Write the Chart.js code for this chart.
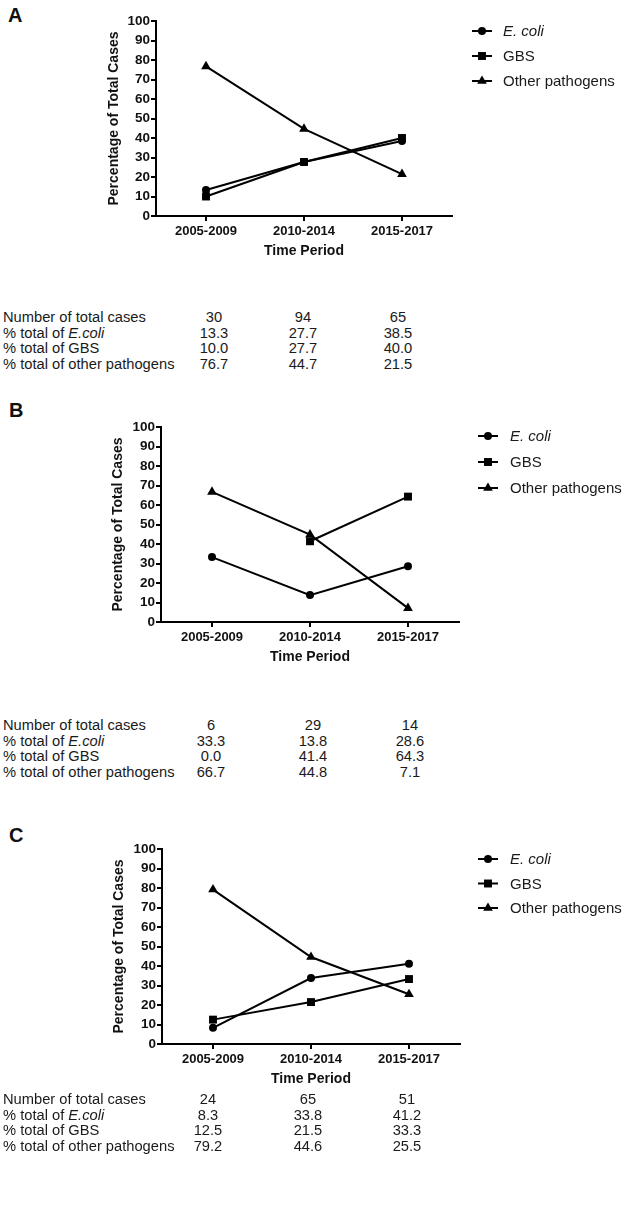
<!DOCTYPE html>
<html><head><meta charset="utf-8">
<script src="https://cdn.jsdelivr.net/npm/chart.js@4.4.1/dist/chart.umd.min.js"></script>
<style>
body{margin:0;background:#fff;}
#page{position:relative;width:632px;height:1205px;overflow:hidden;font-family:"Liberation Sans",Arial,sans-serif;color:#1a1a1a;background:#fff;}
canvas{position:absolute;left:0;}
.letter{position:absolute;font-weight:bold;font-size:20px;line-height:20px;color:#111;}
.row{position:absolute;left:0;width:632px;height:16px;line-height:16px;white-space:nowrap;font-size:14.7px;}
.lab{position:absolute;left:3px;top:0;}
.cell{position:absolute;top:0;transform:translateX(-50%);}
</style></head>
<body><div id="page"></div>
<script>
// ---- data ----
const periods = ['2005-2009', '2010-2014', '2015-2017'];
const yTickValues = [0, 10, 20, 30, 40, 50, 60, 70, 80, 90, 100];
const seriesNames = ['E. coli', 'GBS', 'Other pathogens'];
const rowLabels = ['Number of total cases', '% total of <i>E.coli</i>', '% total of GBS', '% total of other pathogens'];

const totalA = [30, 94, 65];
const ecoliA = [13.3, 27.7, 38.5];
const gbsA   = [10.0, 27.7, 40.0];
const otherA = [76.7, 44.7, 21.5];

const totalB = [6, 29, 14];
const ecoliB = [33.3, 13.8, 28.6];
const gbsB   = [0.0, 41.4, 64.3];
const otherB = [66.7, 44.8, 7.1];

const totalC = [24, 65, 51];
const ecoliC = [8.3, 33.8, 41.2];
const gbsC   = [12.5, 21.5, 33.3];
const otherC = [79.2, 44.6, 25.5];

// ---- layout (page pixels) ----
const FONT = '"Liberation Sans", Arial, sans-serif';
const panels = [
  {letter:'A', letterX:8, letterY:5, top:0, h:270, axisX:156, yTop:21, yBottom:216, cat0:206, step:98, titleX:114,
   legend:{lineX:472, textX:503, y0:31, dy:25}, table:{y0:317, dy:15.6, cols:[214, 303, 398]},
   total:totalA, ecoli:ecoliA, gbs:gbsA, other:otherA},
  {letter:'B', letterX:9, letterY:400, top:390, h:290, axisX:161, yTop:427, yBottom:622, cat0:212, step:98, titleX:118,
   legend:{lineX:478, textX:510, y0:436, dy:26}, table:{y0:725, dy:15.5, cols:[211, 313, 410]},
   total:totalB, ecoli:ecoliB, gbs:gbsB, other:otherB},
  {letter:'C', letterX:9, letterY:825, top:810, h:290, axisX:162, yTop:849, yBottom:1044, cat0:213, step:98, titleX:119,
   legend:{lineX:478, textX:510, y0:859, dy:24.5}, table:{y0:1099, dy:15.6, cols:[208, 308, 407]},
   total:totalC, ecoli:ecoliC, gbs:gbsC, other:otherC}
];

const styles = [
  {pointStyle:'circle', radius:4, italic:true},
  {pointStyle:'rect', radius:5.6, italic:false},
  {pointStyle:'triangle', radius:5.6, italic:false}
];

const page = document.getElementById('page');

const legendPlugin = {
  id:'customLegend',
  afterDraw(chart, args, opts) {
    const ctx = chart.ctx;
    const L = opts.cfg.legend, top = opts.cfg.top;
    chart.data.datasets.forEach((ds, i) => {
      const y = L.y0 - top + i * L.dy;
      ctx.save();
      ctx.strokeStyle = '#000'; ctx.lineWidth = 2;
      ctx.beginPath(); ctx.moveTo(L.lineX, y); ctx.lineTo(L.lineX + 20, y); ctx.stroke();
      ctx.fillStyle = '#000';
      Chart.helpers.drawPoint(ctx, {pointStyle: ds.pointStyle, radius: ds.pointRadius, rotation:0, borderWidth:0}, L.lineX + 10, y);
      ctx.font = (styles[i].italic ? 'italic ' : '') + '15px ' + FONT;
      ctx.fillStyle = '#1a1a1a';
      ctx.textBaseline = 'middle';
      ctx.fillText(ds.label, L.textX, y + 1);
      ctx.restore();
    });
  }
};

panels.forEach(cfg => {
  // panel letter
  const lt = document.createElement('div');
  lt.className = 'letter'; lt.textContent = cfg.letter;
  lt.style.left = cfg.letterX + 'px'; lt.style.top = cfg.letterY + 'px';
  page.appendChild(lt);

  // chart canvas
  const cv = document.createElement('canvas');
  cv.width = 632; cv.height = cfg.h;
  cv.style.top = cfg.top + 'px';
  page.appendChild(cv);

  const xMin = -(cfg.cat0 - cfg.axisX) / cfg.step;
  const xMax = 2 - xMin;
  const areaW = (xMax - xMin) * cfg.step;
  const padL = cfg.titleX - 8.4;
  const yW = cfg.axisX - padL;
  const xH = 44;
  const padTop = cfg.yTop - cfg.top;
  const padBottom = cfg.h - (cfg.yBottom - cfg.top) - xH;
  const padRight = 632 - (cfg.axisX + areaW);

  const plotVals = [cfg.ecoli, cfg.gbs, cfg.other].map(arr => arr.map(v => v === 0 ? null : v)); // zero values are not plotted in the original
  const datasets = seriesNames.map((name, i) => ({
    label: name,
    data: plotVals[i].map((v, k) => ({x:k, y:v})),
    borderColor:'#000', backgroundColor:'#000', borderWidth:2,
    pointStyle: styles[i].pointStyle, pointRadius: styles[i].radius,
    pointBackgroundColor:'#000', pointBorderColor:'#000', pointBorderWidth:0,
    tension:0, spanGaps:false, clip:false
  }));

  const axisGrid = {display:true, drawOnChartArea:false, drawTicks:true, tickLength:5, color:'#000', lineWidth:2};
  new Chart(cv, {
    type:'line',
    data:{datasets},
    options:{
      responsive:false, animation:false, devicePixelRatio:1,
      layout:{padding:{left:padL, right:padRight, top:padTop, bottom:padBottom}},
      plugins:{legend:{display:false}, tooltip:{enabled:false}, customLegend:{cfg}},
      scales:{
        x:{type:'linear', min:xMin, max:xMax, bounds:'data',
           afterBuildTicks: s => { s.ticks = periods.map((p, i) => ({value:i})); },
           afterFit: s => { s.height = xH; },
           grid: axisGrid, border:{display:true, color:'#000', width:2},
           ticks:{callback: v => periods[v], autoSkip:false, maxRotation:0, padding:3, color:'#111',
                  font:{family:FONT, size:13, weight:'bold'}},
           title:{display:true, text:'Time Period', color:'#111', padding:0, font:{family:FONT, size:14, weight:'bold'}}},
        y:{type:'linear', min:0, max:100,
           afterBuildTicks: s => { s.ticks = yTickValues.map(v => ({value:v})); },
           afterFit: s => { s.width = yW; },
           grid: axisGrid, border:{display:true, color:'#000', width:2},
           ticks:{padding:1, color:'#111', font:{family:FONT, size:13.5, weight:'bold'}},
           title:{display:true, text:'Percentage of Total Cases', color:'#111', padding:0, font:{family:FONT, size:14, weight:'bold'}}}
      }
    },
    plugins:[legendPlugin]
  });

  // table
  const rows = [
    cfg.total.map(v => String(v)),
    cfg.ecoli.map(v => v.toFixed(1)),
    cfg.gbs.map(v => v.toFixed(1)),
    cfg.other.map(v => v.toFixed(1))
  ];
  rows.forEach((vals, r) => {
    const row = document.createElement('div');
    row.className = 'row';
    row.style.top = (cfg.table.y0 + r * cfg.table.dy - 8) + 'px';
    let html = '<span class="lab">' + rowLabels[r] + '</span>';
    vals.forEach((v, c) => { html += '<span class="cell" style="left:' + cfg.table.cols[c] + 'px">' + v + '</span>'; });
    row.innerHTML = html;
    page.appendChild(row);
  });
});
</script>
</body></html>
